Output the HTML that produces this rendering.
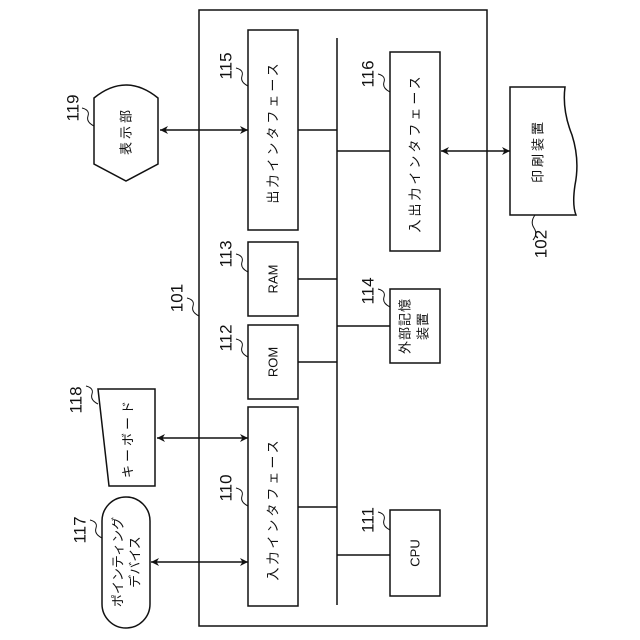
<!DOCTYPE html>
<html><head><meta charset="utf-8"><style>
html,body{margin:0;padding:0;background:#fff;}
svg{display:block;}
text{font-family:"Liberation Sans","Noto Sans CJK JP",sans-serif;fill:#111;}
.n{font-size:17px;}
.j{font-size:13px;letter-spacing:3px;}
</style></head><body>
<svg width="640" height="640" viewBox="0 0 640 640" xmlns="http://www.w3.org/2000/svg">
<defs>
<marker id="a" viewBox="0 0 10 10" refX="10" refY="5" markerWidth="8" markerHeight="8" orient="auto-start-reverse" markerUnits="userSpaceOnUse"><path d="M0,0 L10,5 L0,10 L3,5 Z" fill="#111"/></marker>
</defs>
<g fill="none" stroke="#111" stroke-width="1.5">
<rect x="199" y="10" width="288" height="616"/>
<line x1="337" y1="38" x2="337" y2="605"/>
<rect x="248" y="30" width="50" height="200"/>
<rect x="248" y="242" width="50" height="74"/>
<rect x="248" y="325" width="50" height="74"/>
<rect x="248" y="407" width="50" height="199"/>
<rect x="390" y="52" width="50" height="199"/>
<rect x="390" y="289" width="50" height="74"/>
<rect x="390" y="510" width="50" height="86"/>
<line x1="298" y1="130" x2="337" y2="130"/>
<line x1="298" y1="279" x2="337" y2="279"/>
<line x1="298" y1="362" x2="337" y2="362"/>
<line x1="298" y1="507" x2="337" y2="507"/>
<line x1="337" y1="151" x2="390" y2="151"/>
<line x1="337" y1="326" x2="390" y2="326"/>
<line x1="337" y1="555" x2="390" y2="555"/>
<line x1="160" y1="130" x2="248" y2="130" marker-start="url(#a)" marker-end="url(#a)"/>
<line x1="441" y1="151" x2="510" y2="151" marker-start="url(#a)" marker-end="url(#a)"/>
<line x1="157" y1="438" x2="248" y2="438" marker-start="url(#a)" marker-end="url(#a)"/>
<line x1="151" y1="562" x2="248" y2="562" marker-start="url(#a)" marker-end="url(#a)"/>
<path d="M94,98 Q126,72 158,98 L158,164 L126,181 L94,164 Z"/>
<path d="M98,389 L155,389 L155,486 L109,486 Z"/>
<rect x="102" y="497" width="48" height="131" rx="24" ry="24"/>
<path d="M510,87 L565,87 Q562,110 572,135 Q580,160 575,185 Q572,205 576,215 L510,215 Z"/>
<g stroke-width="1">
<path d="M94,126 Q86,122 88,116 Q90,110 82,108"/>
<path d="M248,86 Q240,82 242,76 Q244,70 236,68"/>
<path d="M248,272 Q240,268 242,262 Q244,256 236,254"/>
<path d="M248,357 Q240,353 242,347 Q244,341 236,339"/>
<path d="M248,506 Q240,502 242,496 Q244,490 236,488"/>
<path d="M390,92 Q382,88 384,82 Q386,76 378,74"/>
<path d="M390,307 Q382,303 384,297 Q386,291 378,289"/>
<path d="M390,530 Q382,526 384,520 Q386,514 378,512"/>
<path d="M199,316 Q191,312 193,306 Q195,300 187,298"/>
<path d="M98,404 Q90,400 92,394 Q94,388 86,386"/>
<path d="M102,538 Q94,534 96,528 Q98,522 90,520"/>
<path d="M535,215 Q530,222 534,228 Q538,234 533,240"/>
</g>
</g>
<g class="n">
<text transform="translate(73,108) rotate(-90)" text-anchor="middle" dominant-baseline="central">119</text>
<text transform="translate(226,66) rotate(-90)" text-anchor="middle" dominant-baseline="central">115</text>
<text transform="translate(226,254) rotate(-90)" text-anchor="middle" dominant-baseline="central">113</text>
<text transform="translate(226,338) rotate(-90)" text-anchor="middle" dominant-baseline="central">112</text>
<text transform="translate(226,488) rotate(-90)" text-anchor="middle" dominant-baseline="central">110</text>
<text transform="translate(368,74) rotate(-90)" text-anchor="middle" dominant-baseline="central">116</text>
<text transform="translate(368,291) rotate(-90)" text-anchor="middle" dominant-baseline="central">114</text>
<text transform="translate(368,520) rotate(-90)" text-anchor="middle" dominant-baseline="central">111</text>
<text transform="translate(177,298) rotate(-90)" text-anchor="middle" dominant-baseline="central">101</text>
<text transform="translate(76,400) rotate(-90)" text-anchor="middle" dominant-baseline="central">118</text>
<text transform="translate(80,530) rotate(-90)" text-anchor="middle" dominant-baseline="central">117</text>
<text transform="translate(541,244) rotate(-90)" text-anchor="middle" dominant-baseline="central">102</text>
</g>
<g class="j">
<text transform="translate(273,132) rotate(-90)" text-anchor="middle" dominant-baseline="central">出力インタフェース</text>
<text transform="translate(415,153) rotate(-90)" text-anchor="middle" dominant-baseline="central">入出力インタフェース</text>
<text transform="translate(273,509) rotate(-90)" text-anchor="middle" dominant-baseline="central">入力インタフェース</text>
<text transform="translate(273,279) rotate(-90)" text-anchor="middle" dominant-baseline="central" style="letter-spacing:0">RAM</text>
<text transform="translate(273,362) rotate(-90)" text-anchor="middle" dominant-baseline="central" style="letter-spacing:0">ROM</text>
<text transform="translate(415,553) rotate(-90)" text-anchor="middle" dominant-baseline="central" style="letter-spacing:0">CPU</text>
<text transform="translate(405,326) rotate(-90)" text-anchor="middle" dominant-baseline="central" style="letter-spacing:1px">外部記憶</text>
<text transform="translate(423,326) rotate(-90)" text-anchor="middle" dominant-baseline="central" style="letter-spacing:1px">装置</text>
<text transform="translate(126,131) rotate(-90)" text-anchor="middle" dominant-baseline="central">表示部</text>
<text transform="translate(128,438) rotate(-90)" text-anchor="middle" dominant-baseline="central">キーボード</text>
<text transform="translate(118,562) rotate(-90)" text-anchor="middle" dominant-baseline="central" style="letter-spacing:0">ポインティング</text>
<text transform="translate(135,562) rotate(-90)" text-anchor="middle" dominant-baseline="central" style="letter-spacing:0">デバイス</text>
<text transform="translate(538,151) rotate(-90)" text-anchor="middle" dominant-baseline="central">印刷装置</text>
</g>
</svg>
</body></html>
